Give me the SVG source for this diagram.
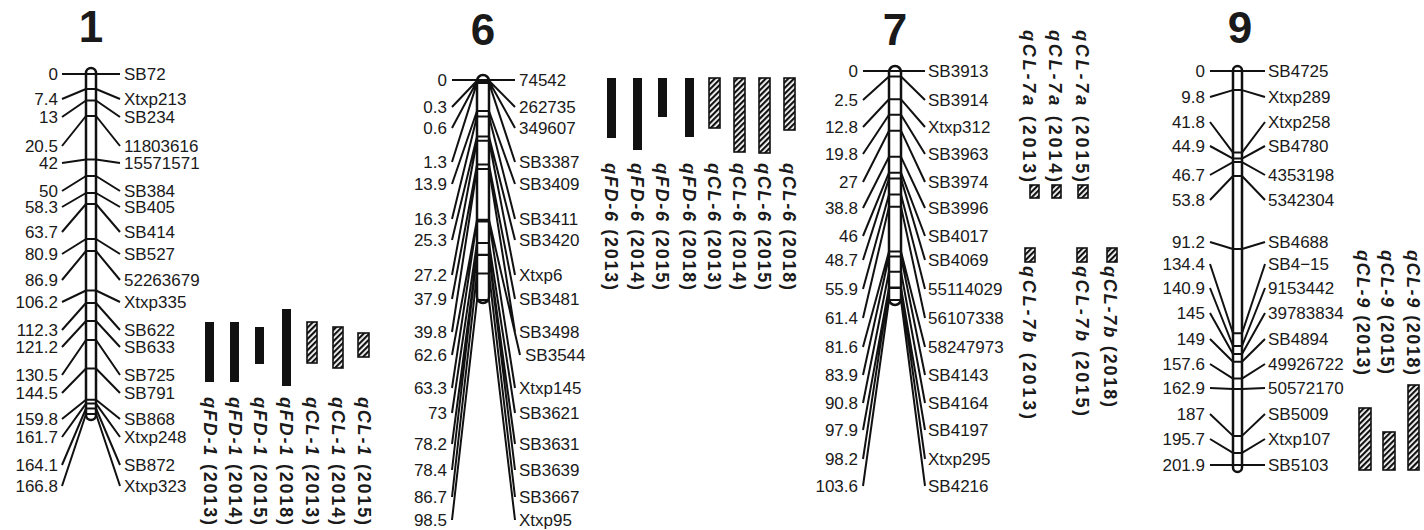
<svg xmlns="http://www.w3.org/2000/svg" width="1424" height="530" viewBox="0 0 1424 530">
<style>
text{font-family:"Liberation Sans",Arial,sans-serif;fill:#1a1a1a}
.l{font-size:17px}
.n{font-size:17px;text-anchor:end}
.t{font-size:44px;font-weight:bold;text-anchor:middle}
.q{font-size:18px;font-weight:bold}
.chr{fill:#fff;stroke:#111;stroke-width:2.5}
.ln{fill:none;stroke:#111;stroke-width:2;stroke-linejoin:round}
.s{fill:#111}
.h{fill:url(#hatch);stroke:#111;stroke-width:1.6}
</style>
<defs>
<pattern id="hatch" patternUnits="userSpaceOnUse" width="4" height="4" patternTransform="rotate(45)"><rect width="4" height="4" fill="#fff"/><rect width="2.2" height="4" fill="#111"/></pattern>
</defs>
<rect width="1424" height="530" fill="#fff"/>

<g id="chr1">
<text class="t" x="91" y="42">1</text>
<rect class="chr" x="86" y="68" width="10" height="352" rx="5"/>
<g class="n"><text x="58" y="80">0</text><text x="58" y="105">7.4</text><text x="58" y="123">13</text><text x="58" y="152">20.5</text><text x="58" y="169">42</text><text x="58" y="197">50</text><text x="58" y="213">58.3</text><text x="58" y="238">63.7</text><text x="58" y="260">80.9</text><text x="58" y="286">86.9</text><text x="58" y="308">106.2</text><text x="58" y="336">112.3</text><text x="58" y="353">121.2</text><text x="58" y="381">130.5</text><text x="58" y="399">144.5</text><text x="58" y="425">159.8</text><text x="58" y="443">161.7</text><text x="58" y="471">164.1</text><text x="58" y="492">166.8</text></g>
<g class="l"><text x="124" y="80">SB72</text><text x="124" y="105">Xtxp213</text><text x="124" y="123">SB234</text><text x="124" y="152">11803616</text><text x="124" y="169">15571571</text><text x="124" y="197">SB384</text><text x="124" y="213">SB405</text><text x="124" y="238">SB414</text><text x="124" y="260">SB527</text><text x="124" y="286">52263679</text><text x="124" y="308">Xtxp335</text><text x="124" y="336">SB622</text><text x="124" y="353">SB633</text><text x="124" y="381">SB725</text><text x="124" y="399">SB791</text><text x="124" y="425">SB868</text><text x="124" y="443">Xtxp248</text><text x="124" y="471">SB872</text><text x="124" y="492">Xtxp323</text></g>
</g>

<g id="qtl1">
<rect class="s" x="205" y="322" width="9" height="60"/>
<rect class="s" x="230" y="322" width="9" height="60"/>
<rect class="s" x="255" y="327" width="9" height="37"/>
<rect class="s" x="282" y="309" width="9" height="77"/>
<rect class="h" x="307" y="322" width="10" height="41"/>
<rect class="h" x="333" y="327" width="10" height="41"/>
<rect class="h" x="358" y="333" width="11" height="24"/>
<text class="q" transform="translate(203.5,397) rotate(90)" textLength="128" lengthAdjust="spacing"><tspan font-style="italic">qFD-1</tspan> (2013)</text>
<text class="q" transform="translate(228.5,397) rotate(90)" textLength="128" lengthAdjust="spacing"><tspan font-style="italic">qFD-1</tspan> (2014)</text>
<text class="q" transform="translate(253.5,397) rotate(90)" textLength="128" lengthAdjust="spacing"><tspan font-style="italic">qFD-1</tspan> (2015)</text>
<text class="q" transform="translate(279.5,397) rotate(90)" textLength="128" lengthAdjust="spacing"><tspan font-style="italic">qFD-1</tspan> (2018)</text>
<text class="q" transform="translate(305.5,397) rotate(90)" textLength="128" lengthAdjust="spacing"><tspan font-style="italic">qCL-1</tspan> (2013)</text>
<text class="q" transform="translate(331.5,397) rotate(90)" textLength="128" lengthAdjust="spacing"><tspan font-style="italic">qCL-1</tspan> (2014)</text>
<text class="q" transform="translate(357.5,397) rotate(90)" textLength="128" lengthAdjust="spacing"><tspan font-style="italic">qCL-1</tspan> (2015)</text>
</g>

<g id="chr6">
<text class="t" x="483" y="45">6</text>
<rect class="chr" x="477" y="75" width="12" height="228" rx="6"/>
<g class="n"><text x="447" y="86">0</text><text x="447" y="113">0.3</text><text x="447" y="134">0.6</text><text x="447" y="168">1.3</text><text x="447" y="190">13.9</text><text x="447" y="225">16.3</text><text x="447" y="246">25.3</text><text x="447" y="281">27.2</text><text x="447" y="305">37.9</text><text x="447" y="338">39.8</text><text x="447" y="361">62.6</text><text x="447" y="394">63.3</text><text x="447" y="419">73</text><text x="447" y="450">78.2</text><text x="447" y="476">78.4</text><text x="447" y="503">86.7</text><text x="447" y="526">98.5</text></g>
<g class="l"><text x="519" y="86">74542</text><text x="519" y="113">262735</text><text x="519" y="134">349607</text><text x="519" y="168">SB3387</text><text x="519" y="190">SB3409</text><text x="519" y="225">SB3411</text><text x="519" y="246">SB3420</text><text x="519" y="281">Xtxp6</text><text x="519" y="305">SB3481</text><text x="519" y="338">SB3498</text><text x="525" y="361">SB3544</text><text x="519" y="394">Xtxp145</text><text x="519" y="419">SB3621</text><text x="519" y="450">SB3631</text><text x="519" y="476">SB3639</text><text x="519" y="503">SB3667</text><text x="519" y="526">Xtxp95</text></g>
</g>

<g id="qtl6">
<rect class="s" x="607" y="78" width="9" height="60"/>
<rect class="s" x="633" y="78" width="9" height="72"/>
<rect class="s" x="658" y="78" width="9" height="39"/>
<rect class="s" x="685" y="78" width="9" height="59"/>
<rect class="h" x="709" y="78" width="11" height="50"/>
<rect class="h" x="734" y="78" width="11" height="74"/>
<rect class="h" x="759" y="78" width="11" height="75"/>
<rect class="h" x="784" y="78" width="11" height="52"/>
<text class="q" transform="translate(604.5,163) rotate(90)" textLength="127" lengthAdjust="spacing"><tspan font-style="italic">qFD-6</tspan> (2013)</text>
<text class="q" transform="translate(630.5,163) rotate(90)" textLength="127" lengthAdjust="spacing"><tspan font-style="italic">qFD-6</tspan> (2014)</text>
<text class="q" transform="translate(655.5,163) rotate(90)" textLength="127" lengthAdjust="spacing"><tspan font-style="italic">qFD-6</tspan> (2015)</text>
<text class="q" transform="translate(682.5,163) rotate(90)" textLength="127" lengthAdjust="spacing"><tspan font-style="italic">qFD-6</tspan> (2018)</text>
<text class="q" transform="translate(708,163) rotate(90)" textLength="127" lengthAdjust="spacing"><tspan font-style="italic">qCL-6</tspan> (2013)</text>
<text class="q" transform="translate(733,163) rotate(90)" textLength="127" lengthAdjust="spacing"><tspan font-style="italic">qCL-6</tspan> (2014)</text>
<text class="q" transform="translate(758,163) rotate(90)" textLength="127" lengthAdjust="spacing"><tspan font-style="italic">qCL-6</tspan> (2015)</text>
<text class="q" transform="translate(783,163) rotate(90)" textLength="127" lengthAdjust="spacing"><tspan font-style="italic">qCL-6</tspan> (2018)</text>
</g>

<g id="chr7">
<text class="t" x="895" y="45">7</text>
<rect class="chr" x="889" y="66" width="12" height="239" rx="6"/>
<g class="n"><text x="858" y="77">0</text><text x="858" y="106">2.5</text><text x="858" y="133">12.8</text><text x="858" y="160">19.8</text><text x="858" y="188">27</text><text x="858" y="214">38.8</text><text x="858" y="242">46</text><text x="858" y="266">48.7</text><text x="858" y="295">55.9</text><text x="858" y="324">61.4</text><text x="858" y="353">81.6</text><text x="858" y="381">83.9</text><text x="858" y="409">90.8</text><text x="858" y="436">97.9</text><text x="858" y="465">98.2</text><text x="858" y="492">103.6</text></g>
<g class="l"><text x="928" y="77">SB3913</text><text x="928" y="106">SB3914</text><text x="928" y="133">Xtxp312</text><text x="928" y="160">SB3963</text><text x="928" y="188">SB3974</text><text x="928" y="214">SB3996</text><text x="928" y="242">SB4017</text><text x="928" y="266">SB4069</text><text x="928" y="295">55114029</text><text x="928" y="324">56107338</text><text x="928" y="353">58247973</text><text x="928" y="381">SB4143</text><text x="928" y="409">SB4164</text><text x="928" y="436">SB4197</text><text x="928" y="465">Xtxp295</text><text x="928" y="492">SB4216</text></g>
</g>

<g id="qtl7">
<rect class="h" x="1030" y="185" width="9" height="13"/>
<rect class="h" x="1052" y="185" width="9" height="13"/>
<rect class="h" x="1078" y="185" width="10" height="13"/>
<rect class="h" x="1025" y="248" width="10" height="14"/>
<rect class="h" x="1077" y="248" width="10" height="14"/>
<rect class="h" x="1107" y="248" width="10" height="14"/>
<text class="q" transform="translate(1023,30) rotate(90)" textLength="152" lengthAdjust="spacing"><tspan font-style="italic">qCL-7a</tspan> (2013)</text>
<text class="q" transform="translate(1048.5,30) rotate(90)" textLength="152" lengthAdjust="spacing"><tspan font-style="italic">qCL-7a</tspan> (2014)</text>
<text class="q" transform="translate(1076,30) rotate(90)" textLength="152" lengthAdjust="spacing"><tspan font-style="italic">qCL-7a</tspan> (2015)</text>
<text class="q" transform="translate(1023,266) rotate(90)" textLength="153" lengthAdjust="spacing"><tspan font-style="italic">qCL-7b</tspan> (2013)</text>
<text class="q" transform="translate(1076,266) rotate(90)" textLength="150" lengthAdjust="spacing"><tspan font-style="italic">qCL-7b</tspan> (2015)</text>
<text class="q" transform="translate(1104,266) rotate(90)" textLength="141" lengthAdjust="spacing"><tspan font-style="italic">qCL-7b</tspan> (2018)</text>
</g>

<g id="chr9">
<text class="t" x="1240" y="43">9</text>
<rect class="chr" x="1233" y="66" width="9" height="406" rx="4.5"/>
<g class="n"><text x="1205" y="77">0</text><text x="1205" y="103">9.8</text><text x="1205" y="128">41.8</text><text x="1205" y="152">44.9</text><text x="1205" y="181">46.7</text><text x="1205" y="206">53.8</text><text x="1205" y="248">91.2</text><text x="1205" y="270">134.4</text><text x="1205" y="294">140.9</text><text x="1205" y="319">145</text><text x="1205" y="345">149</text><text x="1205" y="370">157.6</text><text x="1205" y="394">162.9</text><text x="1205" y="420">187</text><text x="1205" y="445">195.7</text><text x="1205" y="471">201.9</text></g>
<g class="l"><text x="1268" y="77">SB4725</text><text x="1268" y="103">Xtxp289</text><text x="1268" y="128">Xtxp258</text><text x="1268" y="152">SB4780</text><text x="1268" y="181">4353198</text><text x="1268" y="206">5342304</text><text x="1268" y="248">SB4688</text><text x="1268" y="270">SB4−15</text><text x="1268" y="294">9153442</text><text x="1268" y="319">39783834</text><text x="1268" y="345">SB4894</text><text x="1268" y="370">49926722</text><text x="1268" y="394">50572170</text><text x="1268" y="420">SB5009</text><text x="1268" y="445">Xtxp107</text><text x="1268" y="471">SB5103</text></g>
</g>

<g id="qtl9">
<rect class="h" x="1359" y="408" width="12" height="62"/>
<rect class="h" x="1383" y="432" width="12" height="38"/>
<rect class="h" x="1408" y="385" width="11" height="85"/>
<text class="q" transform="translate(1356.5,250) rotate(90)" textLength="125" lengthAdjust="spacing"><tspan font-style="italic">qCL-9</tspan> (2013)</text>
<text class="q" transform="translate(1380.5,250) rotate(90)" textLength="124" lengthAdjust="spacing"><tspan font-style="italic">qCL-9</tspan> (2015)</text>
<text class="q" transform="translate(1406.5,250) rotate(90)" textLength="125" lengthAdjust="spacing"><tspan font-style="italic">qCL-9</tspan> (2018)</text>
</g>

<g id="connectors" class="ln">
<path d="M62,74L86,74H96L120,74M62,99L86,89H96L120,99M62,117L86,100.5H96L120,117M62,146L86,116H96L120,146M62,163L86,159.5H96L120,163M62,191L86,176H96L120,191M62,207L86,193H96L120,207M62,232L86,204H96L120,232M62,254L86,239H96L120,254M62,280L86,251H96L120,280M62,302L86,290.5H96L120,302M62,330L86,303H96L120,330M62,347L86,321H96L120,347M62,375L86,340H96L120,375M62,393L86,368.5H96L120,393M62,419L86,399.7H96L120,419M62,437L86,403.6H96L120,437M62,465L86,408.5H96L120,465M62,486L86,414H96L120,486"/>
<path d="M452,80L477,80H489L515,80M452,107L477,80.7H489L515,107M452,128L477,81.3H489L515,128M452,162L477,82.9H489L515,162M452,184L477,111H489L515,184M452,219L477,116.4H489L515,219M452,240L477,136.5H489L515,240M452,275L477,140.8H489L515,275M452,299L477,164.6H489L515,299M452,332L477,168.9H489L515,332M452,355L477,219.8H489L520,355M452,388L477,221.4H489L515,388M452,413L477,243H489L515,413M452,444L477,254.7H489L515,444M452,470L477,255.1H489L515,470M452,497L477,273.6H489L515,497M452,520L477,300H489L515,520"/>
<path d="M863,71L889,71H901L925,71M863,100L889,76.5H901L925,100M863,127L889,99.3H901L925,127M863,154L889,114.8H901L925,154M863,182L889,130.7H901L925,182M863,208L889,156.8H901L925,208M863,236L889,172.7H901L925,236M863,260L889,178.6H901L925,260M863,289L889,194.6H901L925,289M863,318L889,206.7H901L925,318M863,347L889,251.4H901L925,347M863,375L889,256.5H901L925,375M863,403L889,271.7H901L925,403M863,430L889,287.4H901L925,430M863,459L889,288.1H901L925,459M863,486L889,300H901L925,486"/>
<path d="M1210,71L1233,71H1242L1265,71M1210,97L1233,90.1H1242L1265,97M1210,122L1233,152.6H1242L1265,122M1210,146L1233,158.6H1242L1265,146M1210,175L1233,162.1H1242L1265,175M1210,200L1233,176H1242L1265,200M1210,242L1233,249H1242L1265,242M1210,264L1233,333.3H1242L1265,264M1210,288L1233,346H1242L1265,288M1210,313L1233,354H1242L1265,313M1210,339L1233,361.8H1242L1265,339M1210,364L1233,378.6H1242L1265,364M1210,388L1233,388.9H1242L1265,388M1210,414L1233,435.9H1242L1265,414M1210,439L1233,452.9H1242L1265,439M1210,465L1233,465H1242L1265,465"/>
</g>
</svg>
